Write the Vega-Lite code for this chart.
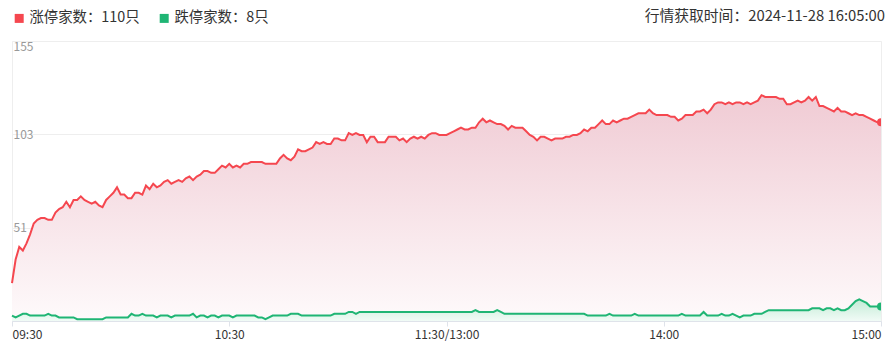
{
"$schema": "https://vega.github.io/schema/vega-lite/v6.json",
"width": 869, "height": 280,
"autosize": "none",
"padding": {"left": 12, "top": 41, "right": 11, "bottom": 35},
"background": "#ffffff",
"config": {"view": {"stroke": "#eeeeee", "strokeWidth": 1}, "font": "Noto Sans CJK SC"},
"title": {"text": "行情获取时间：2024-11-28 16:05:00", "anchor": "end", "fontSize": 14.8, "fontWeight": "normal", "color": "#333333", "font": "Noto Sans CJK SC", "offset": -28, "baseline": "bottom"},
"data": {"values": [
{"t":0,"up":21,"down":3},{"t":1,"up":34,"down":2},{"t":2,"up":41,"down":3},{"t":3,"up":39,"down":4},{"t":4,"up":43,"down":4},{"t":5,"up":48,"down":3},{"t":6,"up":54,"down":3},{"t":7,"up":56,"down":3},{"t":8,"up":57,"down":3},{"t":9,"up":57,"down":3},
{"t":10,"up":56,"down":4},{"t":11,"up":56,"down":3},{"t":12,"up":60,"down":3},{"t":13,"up":62,"down":2},{"t":14,"up":63,"down":2},{"t":15,"up":66,"down":2},{"t":16,"up":63,"down":2},{"t":17,"up":67,"down":2},{"t":18,"up":67,"down":1},{"t":19,"up":69,"down":1},
{"t":20,"up":67,"down":1},{"t":21,"up":66,"down":1},{"t":22,"up":65,"down":1},{"t":23,"up":66,"down":1},{"t":24,"up":64,"down":1},{"t":25,"up":63,"down":1},{"t":26,"up":67,"down":2},{"t":27,"up":69,"down":2},{"t":28,"up":71,"down":2},{"t":29,"up":74,"down":2},
{"t":30,"up":70,"down":2},{"t":31,"up":70,"down":2},{"t":32,"up":68,"down":2},{"t":33,"up":68,"down":4},{"t":34,"up":71,"down":3},{"t":35,"up":71,"down":3},{"t":36,"up":70,"down":4},{"t":37,"up":75,"down":3},{"t":38,"up":73,"down":3},{"t":39,"up":76,"down":3},
{"t":40,"up":74,"down":2},{"t":41,"up":75,"down":3},{"t":42,"up":77,"down":3},{"t":43,"up":78,"down":3},{"t":44,"up":76,"down":2},{"t":45,"up":77,"down":3},{"t":46,"up":78,"down":3},{"t":47,"up":77,"down":3},{"t":48,"up":79,"down":3},{"t":49,"up":80,"down":3},
{"t":50,"up":78,"down":4},{"t":51,"up":80,"down":2},{"t":52,"up":81,"down":3},{"t":53,"up":83,"down":3},{"t":54,"up":83,"down":2},{"t":55,"up":82,"down":3},{"t":56,"up":82,"down":3},{"t":57,"up":84,"down":2},{"t":58,"up":86,"down":3},{"t":59,"up":85,"down":3},
{"t":60,"up":87,"down":3},{"t":61,"up":85,"down":2},{"t":62,"up":86,"down":3},{"t":63,"up":85,"down":3},{"t":64,"up":87,"down":3},{"t":65,"up":87,"down":3},{"t":66,"up":88,"down":3},{"t":67,"up":88,"down":3},{"t":68,"up":88,"down":2},{"t":69,"up":88,"down":2},
{"t":70,"up":87,"down":1},{"t":71,"up":87,"down":2},{"t":72,"up":87,"down":3},{"t":73,"up":87,"down":3},{"t":74,"up":90,"down":3},{"t":75,"up":92,"down":3},{"t":76,"up":90,"down":3},{"t":77,"up":89,"down":4},{"t":78,"up":91,"down":4},{"t":79,"up":95,"down":4},
{"t":80,"up":94,"down":3},{"t":81,"up":94,"down":3},{"t":82,"up":95,"down":3},{"t":83,"up":96,"down":3},{"t":84,"up":99,"down":3},{"t":85,"up":98,"down":3},{"t":86,"up":99,"down":3},{"t":87,"up":98,"down":3},{"t":88,"up":98,"down":3},{"t":89,"up":101,"down":4},
{"t":90,"up":101,"down":4},{"t":91,"up":100,"down":4},{"t":92,"up":100,"down":4},{"t":93,"up":104,"down":5},{"t":94,"up":103,"down":5},{"t":95,"up":104,"down":4},{"t":96,"up":103,"down":5},{"t":97,"up":103,"down":5},{"t":98,"up":99,"down":5},{"t":99,"up":102,"down":5},
{"t":100,"up":102,"down":5},{"t":101,"up":99,"down":5},{"t":102,"up":99,"down":5},{"t":103,"up":99,"down":5},{"t":104,"up":102,"down":5},{"t":105,"up":102,"down":5},{"t":106,"up":102,"down":5},{"t":107,"up":100,"down":5},{"t":108,"up":101,"down":5},{"t":109,"up":99,"down":5},
{"t":110,"up":101,"down":5},{"t":111,"up":102,"down":5},{"t":112,"up":101,"down":5},{"t":113,"up":102,"down":5},{"t":114,"up":101,"down":5},{"t":115,"up":103,"down":5},{"t":116,"up":104,"down":5},{"t":117,"up":104,"down":5},{"t":118,"up":103,"down":5},{"t":119,"up":103,"down":5},
{"t":120,"up":103,"down":5},{"t":121,"up":104,"down":5},{"t":122,"up":105,"down":5},{"t":123,"up":106,"down":5},{"t":124,"up":107,"down":5},{"t":125,"up":106,"down":5},{"t":126,"up":106,"down":5},{"t":127,"up":107,"down":5},{"t":128,"up":107,"down":6},{"t":129,"up":110,"down":5},
{"t":130,"up":112,"down":5},{"t":131,"up":110,"down":5},{"t":132,"up":111,"down":5},{"t":133,"up":110,"down":5},{"t":134,"up":109,"down":6},{"t":135,"up":109,"down":5},{"t":136,"up":108,"down":4},{"t":137,"up":106,"down":4},{"t":138,"up":108,"down":4},{"t":139,"up":107,"down":4},
{"t":140,"up":107,"down":4},{"t":141,"up":107,"down":4},{"t":142,"up":105,"down":4},{"t":143,"up":103,"down":4},{"t":144,"up":102,"down":4},{"t":145,"up":100,"down":4},{"t":146,"up":102,"down":4},{"t":147,"up":102,"down":4},{"t":148,"up":101,"down":4},{"t":149,"up":100,"down":4},
{"t":150,"up":101,"down":4},{"t":151,"up":101,"down":4},{"t":152,"up":101,"down":4},{"t":153,"up":102,"down":4},{"t":154,"up":102,"down":4},{"t":155,"up":103,"down":4},{"t":156,"up":103,"down":4},{"t":157,"up":104,"down":4},{"t":158,"up":106,"down":4},{"t":159,"up":105,"down":3},
{"t":160,"up":107,"down":3},{"t":161,"up":107,"down":3},{"t":162,"up":109,"down":3},{"t":163,"up":111,"down":3},{"t":164,"up":109,"down":3},{"t":165,"up":109,"down":4},{"t":166,"up":111,"down":3},{"t":167,"up":110,"down":3},{"t":168,"up":111,"down":3},{"t":169,"up":112,"down":3},
{"t":170,"up":112,"down":3},{"t":171,"up":113,"down":3},{"t":172,"up":114,"down":4},{"t":173,"up":115,"down":3},{"t":174,"up":115,"down":3},{"t":175,"up":115,"down":3},{"t":176,"up":117,"down":3},{"t":177,"up":115,"down":3},{"t":178,"up":114,"down":3},{"t":179,"up":114,"down":3},
{"t":180,"up":114,"down":3},{"t":181,"up":114,"down":3},{"t":182,"up":113,"down":3},{"t":183,"up":113,"down":3},{"t":184,"up":111,"down":3},{"t":185,"up":112,"down":4},{"t":186,"up":114,"down":3},{"t":187,"up":114,"down":3},{"t":188,"up":114,"down":3},{"t":189,"up":116,"down":3},
{"t":190,"up":116,"down":3},{"t":191,"up":117,"down":5},{"t":192,"up":115,"down":3},{"t":193,"up":117,"down":3},{"t":194,"up":120,"down":3},{"t":195,"up":121,"down":3},{"t":196,"up":121,"down":4},{"t":197,"up":120,"down":3},{"t":198,"up":121,"down":3},{"t":199,"up":120,"down":4},
{"t":200,"up":121,"down":3},{"t":201,"up":121,"down":2},{"t":202,"up":120,"down":3},{"t":203,"up":121,"down":3},{"t":204,"up":120,"down":3},{"t":205,"up":121,"down":4},{"t":206,"up":122,"down":4},{"t":207,"up":125,"down":4},{"t":208,"up":124,"down":5},{"t":209,"up":124,"down":6},
{"t":210,"up":124,"down":6},{"t":211,"up":124,"down":6},{"t":212,"up":123,"down":6},{"t":213,"up":123,"down":6},{"t":214,"up":120,"down":6},{"t":215,"up":120,"down":6},{"t":216,"up":121,"down":6},{"t":217,"up":122,"down":6},{"t":218,"up":121,"down":6},{"t":219,"up":122,"down":6},
{"t":220,"up":124,"down":6},{"t":221,"up":122,"down":7},{"t":222,"up":124,"down":7},{"t":223,"up":119,"down":7},{"t":224,"up":119,"down":6},{"t":225,"up":118,"down":7},{"t":226,"up":117,"down":7},{"t":227,"up":116,"down":6},{"t":228,"up":118,"down":7},{"t":229,"up":116,"down":6},
{"t":230,"up":116,"down":6},{"t":231,"up":115,"down":7},{"t":232,"up":114,"down":9},{"t":233,"up":115,"down":11},{"t":234,"up":114,"down":12},{"t":235,"up":114,"down":11},{"t":236,"up":113,"down":10},{"t":237,"up":112,"down":8},{"t":238,"up":111,"down":8},{"t":239,"up":110,"down":8},
{"t":240,"up":110,"down":8}
]},
"encoding": {
  "x": {"field": "t", "type": "quantitative", "scale": {"domain": [0, 240], "nice": false, "zero": false},
    "axis": {"values": [0, 60, 120, 180, 240], "labelExpr": "datum.value == 0 ? '09:30' : datum.value == 60 ? '10:30' : datum.value == 120 ? '11:30/13:00' : datum.value == 180 ? '14:00' : '15:00'", "labelFlush": true, "labelFontSize": 12, "labelColor": "#333333", "labelFont": "Noto Sans CJK SC", "tickColor": "#dfe3ea", "tickSize": 5, "domainColor": "#dfe3ea", "labelPadding": 3, "grid": false, "title": null}}
},
"layer": [
  {"mark": {"type": "area", "fill": {"gradient": "linear", "x1": 0, "y1": 0, "x2": 0, "y2": 1, "stops": [{"offset": 0, "color": "#f0cbd4"}, {"offset": 1, "color": "#fefafb"}]}},
   "encoding": {"y": {"field": "up", "type": "quantitative", "scale": {"domain": [0, 155], "nice": false},
     "axis": {"values": [0, 51.6667, 103.3333, 155], "labelExpr": "floor(datum.value)", "labelFlush": true, "labelAlign": "left", "labelPadding": -1, "ticks": false, "tickSize": 0, "domain": false, "gridColor": "#eeeeee", "labelColor": "#999999", "labelFontSize": 12, "labelFont": "Noto Sans CJK SC", "title": null}}}},
  {"mark": {"type": "area", "fill": {"gradient": "linear", "x1": 0, "y1": 0, "x2": 0, "y2": 1, "stops": [{"offset": 0, "color": "#c3ebd6"}, {"offset": 1, "color": "#f1fbf6"}]}},
   "encoding": {"y": {"field": "down", "type": "quantitative", "title": null}}},
  {"mark": {"type": "line", "color": "#f5474f", "strokeWidth": 2},
   "encoding": {"y": {"field": "up", "type": "quantitative", "title": null}}},
  {"mark": {"type": "line", "color": "#1fb574", "strokeWidth": 2},
   "encoding": {"y": {"field": "down", "type": "quantitative", "title": null}}},
  {"transform": [{"filter": "datum.t == 240"}, {"fold": ["up", "down"], "as": ["series", "val"]}],
   "mark": {"type": "circle", "size": 64, "opacity": 1, "clip": true},
   "encoding": {"y": {"field": "val", "type": "quantitative", "title": null},
     "color": {"field": "series", "type": "nominal", "scale": {"domain": ["up", "down"], "range": ["#f5474f", "#1fb574"]},
       "legend": {"orient": "none", "legendX": 0, "legendY": -30, "direction": "horizontal", "title": null, "symbolType": "square", "symbolSize": 81, "symbolStrokeWidth": 0, "symbolOpacity": 1, "labelFontSize": 14.4, "labelFont": "Noto Sans CJK SC", "labelColor": "#333333", "labelOffset": 3, "columnPadding": 17, "padding": 0, "labelExpr": "datum.label == 'up' ? '涨停家数：110只' : '跌停家数：8只'"}}}}
]
}
